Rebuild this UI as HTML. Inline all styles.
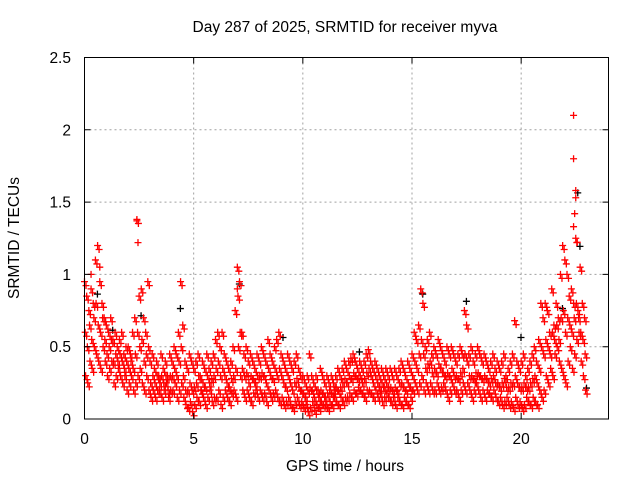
<!DOCTYPE html>
<html><head><meta charset="utf-8"><style>
html,body{margin:0;padding:0;background:#fff;}
svg{display:block;font-family:"Liberation Sans",sans-serif;}
</style></head><body>
<svg id="chart" width="640" height="480" viewBox="0 0 640 480">
<rect width="640" height="480" fill="#fff"/>
<g id="grid"></g>
<g id="black"></g>
<g id="red"></g>
<rect x="84.5" y="57.5" width="524" height="361.5" fill="none" stroke="#000" stroke-width="1"/>
<g id="ticks"></g>
<text x="345" y="32" text-anchor="middle" font-size="15.5">Day 287 of 2025, SRMTID for receiver myva</text>
<text x="345" y="471" text-anchor="middle" font-size="15.5">GPS time / hours</text>
<text transform="translate(19,238) rotate(-90)" text-anchor="middle" font-size="15.5">SRMTID / TECUs</text>
</svg>
<script>
const xTicks=[0,5,10,15,20];
const yTicks=[0,0.5,1,1.5,2,2.5];
const yTickLabels=["0","0.5","1","1.5","2","2.5"];
const valsA=[0.95,0.85,0.75,0.9,0.8,1.1,1.2,0.95,0.8,0.7,
0.65,0.6,0.7,0.55,0.6,0.5,0.55,0.6,0.45,0.5,
0.5,0.45,0.6,0.7,1.38,0.85,0.9,0.7,0.6,0.95,
0.4,0.45,0.35,0.4,0.3,0.45,0.35,0.4,0.3,0.45,
0.4,0.5,0.45,0.6,0.95,0.65,0.4,0.35,0.45,0.4,
0.35,0.4,0.45,0.3,0.4,0.35,0.45,0.35,0.4,0.45,
0.55,0.6,0.5,0.6,0.45,0.4,0.35,0.4,0.5,0.75,
1.05,0.95,0.6,0.45,0.5,0.4,0.45,0.4,0.35,0.45,
0.4,0.5,0.45,0.4,0.55,0.45,0.4,0.5,0.55,0.6,
0.45,0.4,0.35,0.45,0.4,0.35,0.4,0.45,0.35,0.3,
0.3,0.25,0.3,0.45,0.3,0.25,0.3,0.2,0.35,0.3,
0.25,0.3,0.25,0.3,0.25,0.3,0.35,0.3,0.35,0.4,
0.35,0.4,0.42,0.45,0.4,0.35,0.4,0.35,0.4,0.45,
0.48,0.4,0.35,0.4,0.35,0.3,0.35,0.3,0.35,0.3,
0.35,0.3,0.35,0.3,0.35,0.4,0.35,0.3,0.4,0.35,
0.45,0.6,0.55,0.65,0.9,0.8,0.5,0.55,0.6,0.45,
0.5,0.45,0.55,0.5,0.45,0.4,0.5,0.45,0.5,0.45,
0.4,0.45,0.5,0.45,0.75,0.65,0.45,0.5,0.4,0.45,
0.5,0.45,0.4,0.45,0.4,0.35,0.4,0.45,0.35,0.4,
0.35,0.4,0.45,0.3,0.35,0.4,0.45,0.68,0.4,0.35,
0.4,0.45,0.3,0.35,0.4,0.45,0.5,0.4,0.55,0.8,
0.7,0.8,0.75,0.6,0.9,0.65,0.8,0.7,1.0,1.2,
1.1,1.0,0.85,0.9,0.8,1.25,0.75,1.05,0.8,0.7];
const valsB=[0.3,0.25,0.4,0.35,0.5,0.45,0.4,0.35,0.5,0.4,
0.3,0.35,0.4,0.25,0.3,0.35,0.3,0.25,0.3,0.2,
0.25,0.3,0.2,0.25,0.3,0.35,0.25,0.2,0.3,0.2,
0.15,0.2,0.15,0.2,0.25,0.15,0.2,0.25,0.15,0.2,
0.2,0.25,0.15,0.2,0.25,0.15,0.1,0.08,0.12,0.05,
0.1,0.15,0.12,0.2,0.15,0.1,0.15,0.2,0.12,0.15,
0.15,0.2,0.1,0.15,0.2,0.15,0.12,0.18,0.2,0.15,
0.5,0.3,0.2,0.15,0.2,0.15,0.12,0.18,0.2,0.15,
0.2,0.15,0.18,0.12,0.2,0.15,0.18,0.2,0.15,0.12,
0.15,0.1,0.12,0.15,0.1,0.08,0.12,0.15,0.1,0.12,
0.08,0.1,0.05,0.08,0.12,0.06,0.1,0.08,0.12,0.1,
0.1,0.08,0.12,0.1,0.15,0.12,0.1,0.15,0.12,0.15,
0.15,0.18,0.15,0.2,0.18,0.22,0.2,0.18,0.15,0.2,
0.2,0.18,0.15,0.2,0.15,0.18,0.12,0.15,0.18,0.15,
0.12,0.15,0.1,0.15,0.12,0.1,0.15,0.12,0.1,0.15,
0.2,0.25,0.2,0.25,0.3,0.2,0.25,0.2,0.25,0.2,
0.2,0.25,0.2,0.22,0.25,0.2,0.15,0.2,0.25,0.2,
0.2,0.15,0.2,0.25,0.2,0.25,0.2,0.15,0.2,0.25,
0.2,0.15,0.2,0.15,0.2,0.18,0.15,0.2,0.15,0.12,
0.15,0.1,0.12,0.15,0.1,0.12,0.08,0.15,0.1,0.12,
0.08,0.1,0.15,0.12,0.1,0.15,0.12,0.1,0.2,0.15,
0.2,0.3,0.25,0.35,0.3,0.45,0.5,0.4,0.35,0.3,
0.25,0.4,0.5,0.35,0.45,0.55,0.6,0.4,0.3,0.2];
const valsC=[0.6,0.5,0.65,0.55,0.7,0.8,0.65,0.6,0.7,0.55,
0.45,0.5,0.55,0.4,0.45,0.4,0.45,0.4,0.35,0.4,
0.35,0.4,0.35,0.45,0.6,0.5,0.55,0.4,0.45,0.5,
0.25,0.3,0.25,0.3,0.2,0.3,0.25,0.3,0.2,0.3,
0.3,0.35,0.3,0.4,0.5,0.3,0.2,0.2,0.25,0.2,
0.22,0.25,0.3,0.2,0.25,0.22,0.3,0.25,0.28,0.3,
0.35,0.4,0.3,0.35,0.3,0.25,0.22,0.28,0.3,0.35,
0.85,0.6,0.35,0.3,0.32,0.25,0.3,0.28,0.25,0.3,
0.3,0.32,0.3,0.25,0.35,0.3,0.28,0.35,0.3,0.35,
0.3,0.25,0.22,0.3,0.25,0.2,0.25,0.28,0.22,0.2,
0.18,0.15,0.2,0.22,0.2,0.15,0.2,0.15,0.2,0.18,
0.15,0.18,0.2,0.18,0.2,0.22,0.2,0.22,0.25,0.28,
0.25,0.3,0.28,0.32,0.3,0.28,0.3,0.25,0.28,0.32,
0.35,0.3,0.25,0.3,0.25,0.22,0.25,0.22,0.25,0.22,
0.22,0.2,0.22,0.2,0.25,0.25,0.22,0.2,0.25,0.22,
0.3,0.4,0.35,0.45,0.55,0.45,0.35,0.38,0.4,0.32,
0.35,0.32,0.38,0.35,0.32,0.3,0.32,0.3,0.35,0.3,
0.3,0.28,0.32,0.35,0.45,0.4,0.3,0.3,0.28,0.32,
0.32,0.3,0.28,0.3,0.28,0.25,0.28,0.3,0.25,0.25,
0.22,0.25,0.28,0.22,0.22,0.25,0.25,0.3,0.25,0.22,
0.22,0.25,0.22,0.22,0.25,0.28,0.3,0.25,0.35,0.5,
0.45,0.55,0.5,0.45,0.6,0.55,0.65,0.55,0.7,0.75,
0.6,0.7,0.65,0.6,0.7,0.8,0.7,0.6,0.55,0.45];
const spikeT=[22.4,22.4,22.5,22.5,22.45,22.4,22.55,2.45,2.4,7.0,0.3,0.7];
const spikeV=[2.1,1.8,1.58,1.53,1.42,1.33,1.22,1.22,1.37,0.9,1.0,1.05];
const blackT=[0.5,1.2,2.5,4.3,7.0,9.0,12.5,15.4,17.4,19.9,21.8,22.5,22.6,22.9];
const blackV=[0.85,0.6,0.7,0.75,0.92,0.55,0.45,0.85,0.8,0.55,0.75,1.55,1.18,0.2];

const X0=84.5,X1=608.5,Y0=419,Y1=57.5;
function sx(v){return X0+(v/24)*(X1-X0);}
function sy(v){return Y0-(v/2.5)*(Y0-Y1);}
const NS='http://www.w3.org/2000/svg';
function plus(g,x,y,col,name){
  const p=document.createElementNS(NS,'path');
  p.setAttribute('d','M'+(x-3.5)+' '+y+'h7M'+x+' '+(y-3.5)+'v7');
  p.setAttribute('stroke',col);p.setAttribute('stroke-width','1.3');
  
  
  g.appendChild(p);
}
function cluster(g,x,y,col,name){
  plus(g,x,y,col,name);
  plus(g,x+1.5,y+4,col,name);
}
const grid=document.getElementById('grid'),ticks=document.getElementById('ticks');
xTicks.forEach((t,i)=>{
  const x=sx(t);
  if(t>0){const l=document.createElementNS(NS,'line');
  l.setAttribute('x1',x);l.setAttribute('x2',x);l.setAttribute('y1',Y1);l.setAttribute('y2',Y0);
  l.setAttribute('stroke','#a0a0a0');l.setAttribute('stroke-dasharray','2,3');
  
  
  grid.appendChild(l);}
  const tk=document.createElementNS(NS,'path');
  tk.setAttribute('d','M'+x+' '+Y0+'v-6M'+x+' '+Y1+'v6');tk.setAttribute('stroke','#000');
  
  
  ticks.appendChild(tk);
  const tx=document.createElementNS(NS,'text');
  tx.setAttribute('x',x);tx.setAttribute('y',444);tx.setAttribute('text-anchor','middle');tx.setAttribute('font-size','15.5');
  tx.textContent=String(t);
  
  
  ticks.appendChild(tx);
});
yTicks.forEach((t,i)=>{
  const y=sy(t);
  if(t>0&&t<2.5){const l=document.createElementNS(NS,'line');
  l.setAttribute('x1',X0);l.setAttribute('x2',X1);l.setAttribute('y1',y);l.setAttribute('y2',y);
  l.setAttribute('stroke','#a0a0a0');l.setAttribute('stroke-dasharray','2,3');
  
  
  grid.appendChild(l);}
  const tk=document.createElementNS(NS,'path');
  tk.setAttribute('d','M'+X0+' '+y+'h6M'+X1+' '+y+'h-6');tk.setAttribute('stroke','#000');
  
  
  ticks.appendChild(tk);
  const tx=document.createElementNS(NS,'text');
  tx.setAttribute('x',71);tx.setAttribute('y',y+5.5);tx.setAttribute('text-anchor','end');tx.setAttribute('font-size','15.5');
  tx.textContent=yTickLabels[i];
  
  
  ticks.appendChild(tx);
});
const blk=document.getElementById('black'),red=document.getElementById('red');
blackT.forEach((t,i)=>plus(blk,sx(t)+2,sy(blackV[i])-2,'#000','black-point'));
valsA.forEach((v,i)=>cluster(red,sx(i*0.1),sy(v),'#ff0000','red-point'));
valsB.forEach((v,i)=>cluster(red,sx(i*0.1+0.05),sy(v),'#ff0000','red-point'));
valsC.forEach((v,i)=>cluster(red,sx(i*0.1+0.03),sy(v),'#ff0000','red-point'));
spikeT.forEach((t,i)=>plus(red,sx(t),sy(spikeV[i]),'#ff0000','red-point'));
</script>
</body></html>
